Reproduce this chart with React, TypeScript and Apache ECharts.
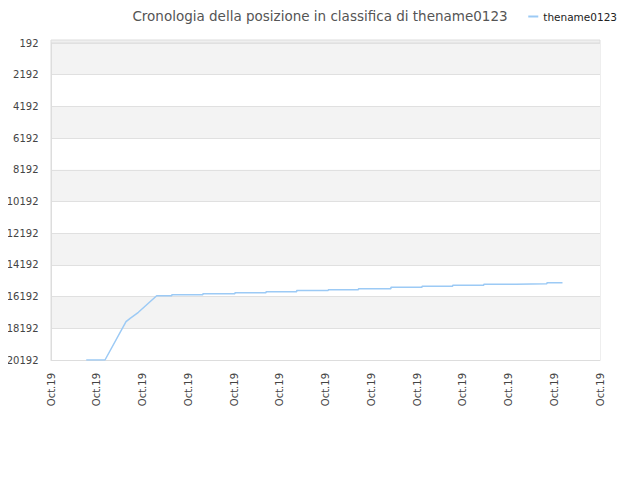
import React, { useEffect, useRef } from "react";
import * as echarts from "echarts";

const rankTicks = [192, 2192, 4192, 6192, 8192, 10192, 12192, 14192, 16192, 18192, 20192];
const xLabels = ["Oct.19", "Oct.19", "Oct.19", "Oct.19", "Oct.19", "Oct.19", "Oct.19", "Oct.19", "Oct.19", "Oct.19", "Oct.19", "Oct.19", "Oct.19"];

// first climb of the ranking
const climbTimes = [0.77, 1.18, 1.64, 1.73, 1.91, 2.31];
const climbRanks = [20192, 20192, 17775, 17561, 17182, 16135];

// afterwards the rank improves a little each day
const stepTimes = [2.64, 3.32, 4.02, 4.7, 5.37, 6.06, 6.72, 7.43, 8.11, 8.78, 9.46, 10.16, 10.84];
const stepRanks = [16072, 16009, 15946, 15883, 15810, 15757, 15694, 15604, 15541, 15478, 15415, 15377, 15314];
const endTime = 11.18;

const App: React.FC = () => {
  const chartRef = useRef<HTMLDivElement>(null);

  useEffect(() => {
    const chart = echarts.init(chartRef.current!, null, { renderer: "svg" });

    const points: number[][] = climbTimes.map((t, i) => [t, climbRanks[i]]);
    let prev = climbRanks[climbRanks.length - 1];
    stepTimes.forEach((t, i) => {
      points.push([t, prev]);
      points.push([t, stepRanks[i]]);
      prev = stepRanks[i];
    });
    points.push([endTime, prev]);

    chart.setOption({
      animation: false,
      textStyle: { fontFamily: "DejaVu Sans" },
      title: {
        text: "Cronologia della posizione in classifica di thename0123",
        left: 315,
        textAlign: "center",
        top: 4,
        textStyle: { fontSize: 13.5, fontWeight: "normal", color: "#555" },
      },
      legend: {
        right: 18,
        top: 6,
        itemWidth: 10,
        itemHeight: 2,
        itemGap: 7,
        icon: "rect",
        textStyle: { fontSize: 10.5, color: "#222" },
        data: ["thename0123"],
      },
      graphic: [
        {
          type: "rect",
          shape: { x: 51, y: 40, width: 549, height: 3 },
          style: { fill: "#efefef", stroke: "#ddd", lineWidth: 1 },
          silent: true,
        },
      ],
      grid: {
        left: 51,
        right: 40,
        top: 43,
        bottom: 120,
        show: true,
        borderColor: "#ddd",
        borderWidth: 1,
        backgroundColor: "transparent",
      },
      xAxis: {
        type: "value",
        min: 0,
        max: xLabels.length - 1,
        interval: 1,
        axisLine: { show: true, lineStyle: { color: "#ddd" } },
        axisTick: { show: false },
        splitLine: { show: false },
        axisLabel: {
          rotate: 90,
          fontSize: 10,
          color: "#444",
          margin: 13,
          formatter: (v: number) => xLabels[Math.round(v)] ?? "",
        },
      },
      yAxis: {
        type: "value",
        inverse: true,
        min: rankTicks[0],
        max: rankTicks[rankTicks.length - 1],
        interval: rankTicks[1] - rankTicks[0],
        axisLine: { show: true, lineStyle: { color: "#ddd" } },
        axisTick: { show: false },
        splitLine: { show: true, lineStyle: { color: "#e0e0e0" } },
        splitArea: { show: true, areaStyle: { color: ["#f3f3f3", "#ffffff"] } },
        axisLabel: {
          fontSize: 10,
          color: "#444",
          margin: 12.5,
          formatter: (v: number) => String(v),
        },
      },
      series: [
        {
          name: "thename0123",
          type: "line",
          data: points,
          showSymbol: false,
          symbol: "none",
          lineStyle: { color: "#9ccaf5", width: 1.5 },
          itemStyle: { color: "#9ccaf5" },
        },
      ],
    });

    return () => {
      chart.dispose();
    };
  }, []);

  return <div ref={chartRef} style={{ width: "640px", height: "480px", margin: "-8px" }}></div>;
};

export default App;
